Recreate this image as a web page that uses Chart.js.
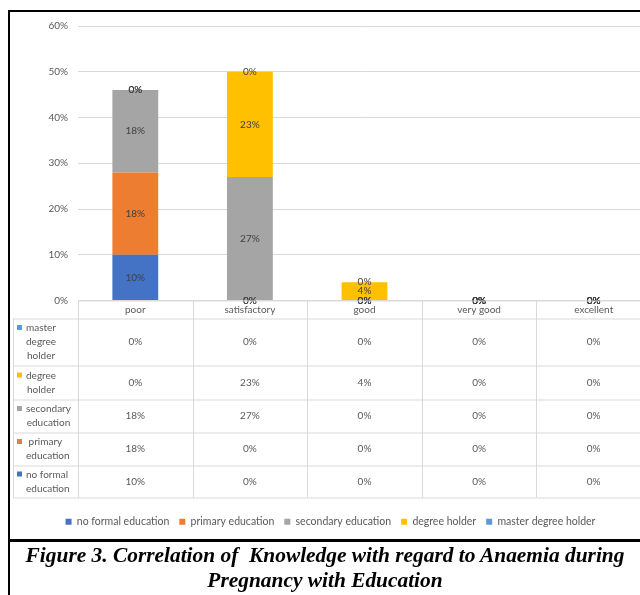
<!DOCTYPE html>
<html>
<head>
<meta charset="utf-8">
<script src="https://cdn.jsdelivr.net/npm/chart.js@4"></script>
<style>
  html, body { margin: 0; padding: 0; width: 640px; height: 595px; overflow: hidden; background: #fff; }
  #wrap { position: absolute; left: 0; top: 0; width: 660px; height: 540px; }
  #frame { position: absolute; left: 8px; top: 10px; width: 700px; height: 600px; border-left: 2px solid #000; border-top: 2px solid #000; pointer-events: none; }
  #caption { position: absolute; left: 10px; top: 539px; width: 630px; height: 60px; border-top: 3px solid #000;
    font-family: "Liberation Serif", serif; font-weight: bold; font-style: italic; font-size: 21.4px; line-height: 25px;
    text-align: center; padding-top: 1px; color: #000; white-space: pre; }
</style>
</head>
<body>
<div id="wrap"><canvas id="chart"></canvas></div>
<div id="frame"></div>
<div id="caption">Figure 3. Correlation of  Knowledge with regard to Anaemia during
Pregnancy with Education</div>
<script>
const categories = ["poor", "satisfactory", "good", "very good", "excellent"];
const seriesNames = ["no formal education", "primary education", "secondary education", "degree holder", "master degree holder"];
const noFormal = [10, 0, 0, 0, 0];
const primary = [18, 0, 0, 0, 0];
const secondary = [18, 27, 0, 0, 0];
const degree = [0, 23, 4, 0, 0];
const master = [0, 0, 0, 0, 0];
const colors = ["#4472C4", "#ED7D31", "#A5A5A5", "#FFC000", "#5B9BD5"];
// wrapped row headers of the data table, same order as the series
const rowLabels = [["no formal", "education"], [" primary", "education"], ["secondary", "education"], ["degree", "holder"], ["master", "degree", "holder"]];

const allSeries = [noFormal, primary, secondary, degree, master];
const FONT = "Lato, 'Open Sans', sans-serif";

// value labels centred on each stacked segment
const valueLabels = {
    id: "valueLabels",
    afterDatasetsDraw(chart) {
        const ctx = chart.ctx;
        ctx.save();
        ctx.font = "10px " + FONT;
        ctx.fillStyle = "#404040";
        ctx.textAlign = "center";
        ctx.textBaseline = "middle";
        chart.data.datasets.forEach((ds, i) => {
            chart.getDatasetMeta(i).data.forEach((bar, j) => {
                ctx.fillText(ds.data[j] + "%", bar.x, (bar.y + bar.base) / 2);
            });
        });
        ctx.restore();
    }
};

// data table under the plot
const dataTable = {
    id: "dataTable",
    afterDraw(chart) {
        const ctx = chart.ctx;
        const area = chart.chartArea;
        const xs = chart.scales.x;
        const colW = area.width / categories.length;
        const headerH = 18;
        const rowH = [47, 34, 33, 33, 32]; // top row first (master ... no formal)
        const tableLeft = 13;
        const top = area.bottom;
        let bottom = top + headerH + rowH.reduce((a, b) => a + b, 0);

        ctx.save();
        ctx.strokeStyle = "#D9D9D9";
        ctx.lineWidth = 1;
        ctx.beginPath();
        ctx.moveTo(area.left, top + 0.5); ctx.lineTo(area.right, top + 0.5);
        let y = top + headerH;
        ctx.moveTo(tableLeft, y + 0.5); ctx.lineTo(area.right, y + 0.5);
        rowH.forEach(h => { y += h; ctx.moveTo(tableLeft, y + 0.5); ctx.lineTo(area.right, y + 0.5); });
        ctx.moveTo(tableLeft + 0.5, top + headerH); ctx.lineTo(tableLeft + 0.5, bottom);
        for (let i = 0; i <= categories.length; i++) {
            const x = Math.round(area.left + i * colW) + 0.5;
            ctx.moveTo(x, top); ctx.lineTo(x, bottom);
        }
        ctx.stroke();

        ctx.font = "10px " + FONT;
        ctx.fillStyle = "#595959";
        ctx.textBaseline = "middle";
        ctx.textAlign = "center";
        categories.forEach((c, j) => ctx.fillText(c, xs.getPixelForValue(j), top + headerH / 2));

        y = top + headerH;
        for (let r = 0; r < rowH.length; r++) {
            const s = allSeries.length - 1 - r;
            const mid = y + rowH[r] / 2;
            ctx.textAlign = "center";
            ctx.fillStyle = "#595959";
            allSeries[s].forEach((v, j) => ctx.fillText(v + "%", xs.getPixelForValue(j), mid));
            // row header with legend key
            const lines = rowLabels[s];
            const lh = 14;
            const maxW = Math.max(...lines.map(l => ctx.measureText(l).width));
            const cx = 26 + maxW / 2;
            let ly = mid - (lines.length - 1) * lh / 2;
            ctx.fillStyle = colors[s];
            ctx.fillRect(17, ly - 3, 5, 5);
            ctx.fillStyle = "#595959";
            lines.forEach((l, k) => {
                if (k === 0) { ctx.textAlign = "left"; ctx.fillText(l, 26, ly); }
                else { ctx.textAlign = "center"; ctx.fillText(l, cx, ly); }
                ly += lh;
            });
            y += rowH[r];
        }
        ctx.restore();
    }
};

new Chart(document.getElementById("chart"), {
    type: "bar",
    data: {
        labels: categories,
        datasets: seriesNames.map((name, i) => ({
            label: name,
            data: allSeries[i],
            backgroundColor: colors[i],
            borderWidth: 0,
            barPercentage: 0.4,
            categoryPercentage: 1.0
        }))
    },
    options: {
        responsive: true,
        maintainAspectRatio: false,
        animation: false,
        layout: { padding: { left: 10, right: 9, top: 26, bottom: 3 } },
        scales: {
            x: {
                stacked: true,
                grid: { display: false },
                border: { display: false },
                ticks: { display: false },
                afterFit(s) { s.height = 206; }
            },
            y: {
                stacked: true,
                min: 0,
                max: 60,
                ticks: { stepSize: 10, padding: 10, color: "#595959", font: { family: FONT, size: 10 }, callback: v => v + "%" },
                grid: { color: "#D9D9D9", drawTicks: false },
                border: { display: false },
                afterFit(s) { s.width = 68; }
            }
        },
        plugins: {
            legend: {
                position: "bottom",
                labels: { boxWidth: 6, boxHeight: 6, padding: 10, color: "#595959", font: { family: FONT, size: 10.5 } }
            },
            tooltip: { enabled: false }
        }
    },
    plugins: [valueLabels, dataTable]
});
</script>
</body>
</html>
